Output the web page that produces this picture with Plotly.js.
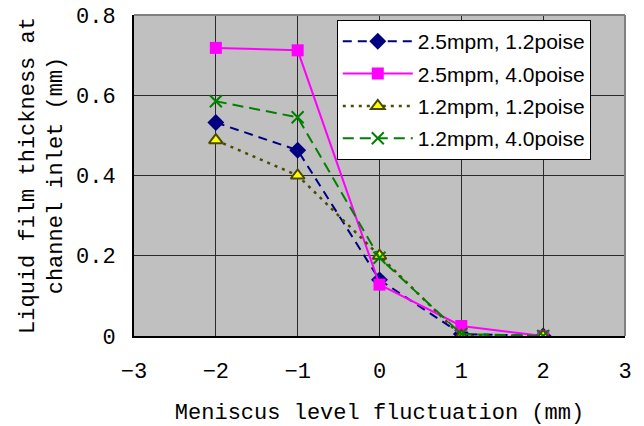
<!DOCTYPE html>
<html>
<head>
<meta charset="utf-8">
<script src="https://cdn.plot.ly/plotly-3.0.1.min.js"></script>
<style>html,body{margin:0;padding:0;background:#fff;}#chart{width:644px;height:426px;}</style>
</head>
<body>
<div id="chart"></div>
<script>
const fluctuation = [-2, -1, 0, 1, 2];
const seriesNames = ["2.5mpm, 1.2poise", "2.5mpm, 4.0poise", "1.2mpm, 1.2poise", "1.2mpm, 4.0poise"];
const film_25_12 = [0.532, 0.463, 0.140, 0.005, 0.0];
const film_25_40 = [0.718, 0.712, 0.128, 0.025, 0.0];
const film_12_12 = [0.488, 0.400, 0.200, 0.0, 0.0];
const film_12_40 = [0.585, 0.545, 0.195, 0.005, 0.0];
const xTicks = [-3, -2, -1, 0, 1, 2, 3];
const yTicks = [0, 0.2, 0.4, 0.6, 0.8];
const yTickText = ["0", "0.2", "0.4", "0.6", "0.8"];

const traces = [
  {x: fluctuation, y: film_25_12, name: seriesNames[0], mode: "lines+markers", legendgroup: "a",
   line: {color: "#000080", width: 2, dash: "9px,6px"},
   marker: {symbol: "diamond", size: 13, color: "#000080"}},
  {x: fluctuation, y: film_25_40, name: seriesNames[1], mode: "lines+markers", legendgroup: "b",
   line: {color: "#FF00FF", width: 2},
   marker: {symbol: "square", size: 12, color: "#FF00FF"}},
  {x: fluctuation, y: film_12_12, name: seriesNames[2], mode: "lines+markers", legendgroup: "c",
   line: {color: "#4a4a00", width: 2.5, dash: "3px,5px"},
   marker: {symbol: "triangle-up", size: 12, color: "#FFFF00", line: {color: "#4a4a00", width: 2}}},
  {x: fluctuation, y: film_12_40, name: seriesNames[3], mode: "lines+markers", legendgroup: "d",
   line: {color: "#008000", width: 2, dash: "11px,6px"},
   marker: {symbol: "x-thin-open", size: 12, color: "#008000", line: {color: "#008000", width: 2}}}
];

const layout = {
  width: 644, height: 426,
  margin: {l: 134, r: 19, t: 15, b: 90},
  paper_bgcolor: "#ffffff",
  plot_bgcolor: "#C0C0C0",
  font: {family: "Liberation Mono, monospace", size: 22, color: "#000"},
  showlegend: true,
  legend: {
    x: 0.413, y: 0.984, xanchor: "left", yanchor: "top",
    bgcolor: "#ffffff", bordercolor: "#000", borderwidth: 1,
    font: {family: "Liberation Sans, Arial, sans-serif", size: 21, color: "#000"},
    itemwidth: 70, tracegroupgap: 2, traceorder: "grouped"
  },
  xaxis: {
    range: [-3, 3], tickvals: xTicks, ticktext: xTicks.map(v => v < 0 ? "\u2212" + Math.abs(v) : String(v)),
    showgrid: true, gridcolor: "#2a2a2a", gridwidth: 1.2,
    zeroline: false, showline: true, linecolor: "#000", linewidth: 2,
    ticks: "", ticklabelstandoff: 14,
    title: {text: "Meniscus level fluctuation (mm)", standoff: 19, font: {size: 22}}
  },
  yaxis: {
    range: [0, 0.8], tickvals: yTicks, ticktext: yTickText,
    showgrid: true, gridcolor: "#2a2a2a", gridwidth: 1.2,
    zeroline: false, showline: true, linecolor: "#000", linewidth: 2,
    ticks: "", ticklabelstandoff: 12,
    title: {text: "Liquid film thickness at<br>channel inlet (mm)", standoff: 7, font: {size: 22}}
  },
  shapes: [
    {type: "line", xref: "paper", yref: "paper", x0: 0, x1: 1, y0: 1, y1: 1, line: {color: "#808080", width: 2}},
    {type: "line", xref: "paper", yref: "paper", x0: 1, x1: 1, y0: 0, y1: 1, line: {color: "#808080", width: 2}}
  ]
};

Plotly.newPlot("chart", traces, layout, {displayModeBar: false, staticPlot: true});
</script>
</body>
</html>
